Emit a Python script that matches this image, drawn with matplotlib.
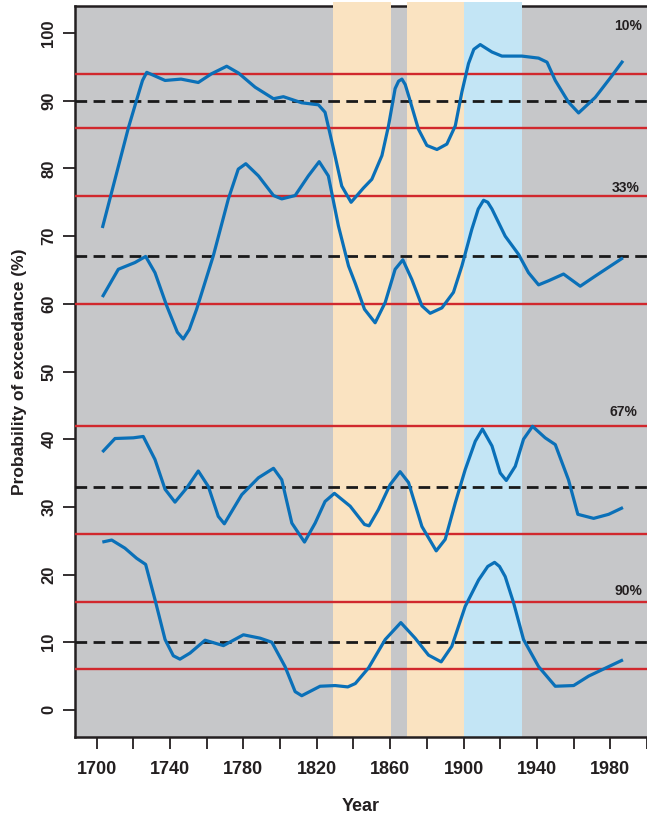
import matplotlib
matplotlib.use("Agg")
import matplotlib.pyplot as plt

plt.rcParams['font.family'] = ['Liberation Sans', 'DejaVu Sans']
plt.rcParams['font.weight'] = 'bold'

# exceedance curves (year, %)
years_10 = [1703.1, 1717.3, 1722.0, 1725.0, 1727.3, 1737.3, 1746.0, 1755.4, 1762.7, 1770.9,
            1777.3, 1786.4, 1796.4, 1801.8, 1811.8, 1820.9, 1824.5, 1829.1, 1833.6, 1838.7,
            1845.4, 1850.0, 1855.5, 1859.1, 1862.7, 1864.6, 1866.4, 1868.2, 1870.0, 1875.4,
            1880.0, 1885.5, 1890.9, 1895.5, 1899.1, 1902.7, 1905.6, 1909.1, 1912.0, 1915.5,
            1920.9, 1931.8, 1940.9, 1945.5, 1950.0, 1957.2, 1962.7, 1971.8, 1980.9, 1986.9]
vals_10 = [71.2, 86.0, 90.3, 93.0, 94.2, 93.0, 93.2, 92.7, 94.0, 95.1,
           94.1, 92.0, 90.3, 90.6, 89.7, 89.4, 88.3, 82.9, 77.4, 75.0,
           77.1, 78.4, 81.9, 86.3, 91.8, 92.9, 93.2, 92.4, 90.8, 85.8,
           83.4, 82.8, 83.6, 86.3, 91.3, 95.5, 97.6, 98.3, 97.8, 97.2,
           96.6, 96.6, 96.3, 95.7, 93.0, 89.8, 88.2, 90.5, 93.7, 95.9]

years_33 = [1703.1, 1711.8, 1720.9, 1726.7, 1731.8, 1738.2, 1744.0, 1747.2, 1750.5, 1754.5,
            1763.6, 1771.8, 1777.2, 1781.3, 1788.2, 1796.4, 1800.9, 1808.2, 1815.4, 1821.3,
            1826.3, 1831.8, 1837.3, 1841.0, 1846.0, 1851.8, 1857.3, 1862.7, 1866.9, 1871.8,
            1877.3, 1881.8, 1888.2, 1894.5, 1899.1, 1904.5, 1908.0, 1910.9, 1913.2, 1915.5,
            1922.7, 1930.0, 1935.4, 1940.9, 1946.3, 1954.5, 1963.6, 1971.8, 1986.9]
vals_33 = [61.0, 65.1, 66.1, 67.0, 64.6, 59.7, 55.8, 54.8, 56.2, 59.2,
           67.1, 75.5, 79.9, 80.7, 78.9, 76.0, 75.5, 76.0, 78.9, 81.0,
           78.9, 71.5, 65.6, 63.0, 59.2, 57.2, 60.2, 65.1, 66.5, 63.6,
           59.7, 58.6, 59.4, 61.7, 65.6, 71.0, 74.0, 75.3, 75.0, 74.0,
           70.0, 67.3, 64.6, 62.8, 63.4, 64.4, 62.6, 64.1, 66.8]

years_67 = [1703.1, 1710.0, 1720.0, 1725.4, 1731.8, 1737.3, 1742.7, 1749.1, 1755.4, 1760.9,
            1766.3, 1769.6, 1779.1, 1788.2, 1796.4, 1800.9, 1806.4, 1813.3, 1819.1, 1824.5,
            1829.6, 1838.2, 1846.0, 1848.5, 1853.6, 1860.0, 1865.4, 1870.0, 1877.3, 1885.1,
            1890.0, 1895.5, 1900.9, 1906.4, 1910.3, 1915.5, 1920.0, 1923.3, 1928.2, 1932.7,
            1937.6, 1944.5, 1950.0, 1957.2, 1962.3, 1970.9, 1979.1, 1986.9]
vals_67 = [38.1, 40.1, 40.2, 40.4, 37.0, 32.6, 30.7, 32.8, 35.3, 33.0,
           28.6, 27.5, 31.8, 34.3, 35.7, 34.0, 27.6, 24.8, 27.6, 30.8,
           32.0, 30.1, 27.4, 27.2, 29.6, 33.3, 35.2, 33.6, 27.1, 23.5,
           25.2, 30.6, 35.5, 39.7, 41.5, 39.0, 35.0, 33.9, 36.0, 40.0,
           41.9, 40.2, 39.2, 34.0, 28.9, 28.3, 28.9, 29.9]

years_90 = [1703.1, 1708.2, 1715.4, 1721.8, 1726.7, 1731.8, 1737.3, 1741.8, 1745.4, 1750.9,
            1759.1, 1769.1, 1780.0, 1789.1, 1795.5, 1802.7, 1808.2, 1811.8, 1821.8, 1830.0,
            1836.9, 1841.0, 1848.2, 1857.3, 1865.8, 1873.6, 1880.9, 1887.8, 1893.6, 1900.9,
            1908.2, 1913.2, 1916.9, 1919.6, 1922.7, 1927.3, 1932.7, 1940.9, 1950.0, 1960.0,
            1968.2, 1979.1, 1986.9]
vals_90 = [24.8, 25.1, 23.9, 22.4, 21.5, 16.3, 10.4, 8.0, 7.5, 8.4,
           10.3, 9.5, 11.1, 10.6, 10.0, 6.4, 2.7, 2.1, 3.5, 3.6,
           3.4, 3.9, 6.2, 10.4, 12.9, 10.6, 8.1, 7.1, 9.4, 15.3,
           19.2, 21.2, 21.8, 21.2, 19.7, 15.8, 10.4, 6.4, 3.5, 3.6,
           5.0, 6.4, 7.4]

curves = [(years_10, vals_10), (years_33, vals_33), (years_67, vals_67), (years_90, vals_90)]

# reference levels
dashed_levels = [90, 67, 33, 10]
red_levels = [94, 86, 76, 60, 42, 26, 16, 6]
pct_labels = ['10%', '33%', '67%', '90%']
pct_label_y = [101.0, 77.1, 44.0, 17.5]
pct_label_x = [1997.4, 1996.0, 1995.0, 1997.4]

# shaded periods
orange_periods = [(1829.1, 1860.5), (1869.3, 1900.3)]
blue_periods = [(1900.3, 1932.0)]

fig = plt.figure(figsize=(6.47, 8.17), dpi=100)
ax = fig.add_axes([75 / 647, 1 - 737 / 817, 1 - 75 / 647, (737 - 6) / 817])
ax.set_facecolor('#c6c7c9')

for x0, x1 in orange_periods:
    ax.axvspan(x0, x1, ymin=0, ymax=1.006, color='#fae3c1', lw=0, zorder=2, clip_on=False)
for x0, x1 in blue_periods:
    ax.axvspan(x0, x1, ymin=0, ymax=1.006, color='#c3e5f5', lw=0, zorder=2, clip_on=False)

for lev in red_levels:
    ax.axhline(lev, color='#d1282d', lw=1.7, zorder=3)
for lev in dashed_levels:
    ax.axhline(lev, color='#1a1a1a', lw=2.0, linestyle=(0, (4.2, 2.3)), zorder=3)

for yrs, vals in curves:
    ax.plot(yrs, vals, color='#0a70b8', lw=2.3, zorder=5,
            solid_joinstyle='round', solid_capstyle='butt')

for txt, xx, yy in zip(pct_labels, pct_label_x, pct_label_y):
    ax.text(xx, yy, txt, ha='right', va='center', fontsize=10, fontweight='bold',
            color='#231f20', zorder=6)

ax.set_xlim(1688.2, 2000)
ax.set_ylim(-4, 104)

ax.set_xticks(range(1700, 2001, 20))
ax.set_xticklabels([str(y) if (y - 1700) % 40 == 0 and y < 2000 else '' for y in range(1700, 2001, 20)])
ax.set_yticks(range(0, 101, 10))
ax.set_yticklabels([str(v) for v in range(0, 101, 10)], rotation=90, va='center')

ax.tick_params(axis='x', length=8.5, width=1.3, pad=9, labelsize=13, colors='#231f20')
ax.tick_params(axis='y', length=8.5, width=1.3, pad=5, labelsize=12, colors='#231f20')

for side in ['left', 'bottom', 'top']:
    ax.spines[side].set_linewidth(1.8)
    ax.spines[side].set_color('#231f20')
ax.spines['top'].set_zorder(1.5)
ax.spines['right'].set_visible(False)

ax.set_xlabel('Year', fontsize=13, fontweight='bold', labelpad=14, color='#231f20')
ax.set_ylabel('Probability of exceedance (%)', fontsize=12.5, fontweight='bold',
              labelpad=10, color='#231f20')

fig.savefig('out.png', dpi=100)
